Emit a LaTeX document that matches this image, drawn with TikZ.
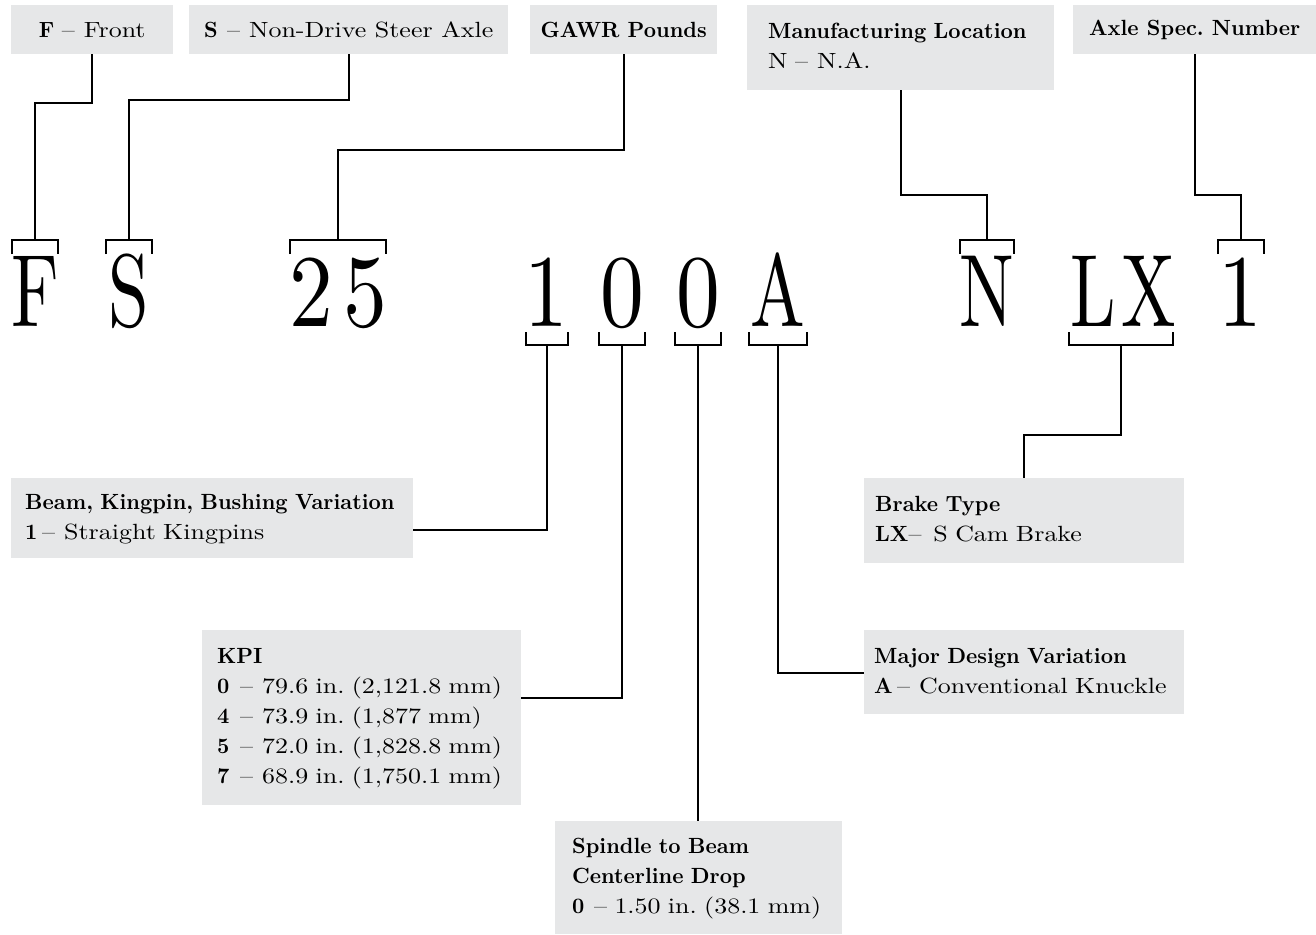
\documentclass[tikz,border=0pt]{standalone}
\usepackage{fontspec}
\setmainfont{lmroman10-regular.otf}[BoldFont=lmroman10-bold.otf,
  UprightFeatures={FakeStretch=1.18}, BoldFeatures={FakeStretch=0.97}]
\usepackage{tikz}
\usetikzlibrary{calc}
\definecolor{boxgray}{HTML}{E6E7E8}
\frenchspacing
\newcommand\entry[3][23pt]{\makebox[#1][l]{#2}--\hspace{9pt}#3}
\newcommand\boxlines[1]{\noindent\begin{tabular}{@{}l@{}}#1\end{tabular}}

\begin{document}
\begin{tikzpicture}[x=1pt, y=-1pt,
    conn/.style={line width=2pt},
    infobox/.style={fill=boxgray, anchor=north west, inner ysep=0pt,
      font=\fontsize{22}{30}\selectfont},
    leftbox/.style={infobox, align=left},
    bigchar/.style={anchor=base, xscale=#1, inner sep=0pt,
      font=\fontsize{103}{103}\selectfont},
    bigchar/.default=0.6]
  \useasboundingbox (0,0) rectangle (1316,934);

  % code boxes on top
  \node[infobox, minimum width=162, minimum height=49] (fbox) at (11,5)
    {\entry{\textbf{F}}{Front}};
  \node[infobox, minimum width=319, minimum height=49] (sbox) at (189,5)
    {\entry{\textbf{S}}{Non-Drive Steer Axle}};
  \node[infobox, minimum width=187, minimum height=49] (gbox) at (530,5)
    {\textbf{GAWR Pounds}};
  \node[leftbox, text width=265, inner xsep=21, minimum height=85] (mbox) at (747,5)
    {\boxlines{\textbf{Manufacturing Location}\\ \entry[27pt]{N}{N.A.}}};
  \node[infobox, minimum width=243, minimum height=49] (abox) at (1073,5)
    {\textbf{Axle Spec. Number}};

  % the axle model number
  \node[bigchar] (cF) at (35,326) {F};
  \node[bigchar] (cS) at (129,326) {S};
  \node[bigchar=0.72] (c2) at (311,326) {2};
  \node[bigchar=0.72] (c5) at (365,326) {5};
  \node[bigchar=0.72] (c1) at (546,326) {1};
  \node[bigchar=0.72] (c0a) at (622,326) {0};
  \node[bigchar=0.72] (c0b) at (698,326) {0};
  \node[bigchar] (cA) at (778,326) {A};
  \node[bigchar] (cN) at (987,326) {N};
  \node[bigchar] (cL) at (1093,326) {L};
  \node[bigchar] (cX) at (1149,326) {X};
  \node[bigchar=0.72] (c1b) at (1240,326) {1};

  % brackets
  \foreach \n/\x/\w in {F/35/23, S/129/23, G/338/48, N/987/27, E/1241/23} {
    \coordinate (t\n) at (\x,240);
    \draw[conn] (\x-\w,254) -- (\x-\w,240) -- (\x+\w,240) -- (\x+\w,254);
  }
  \foreach \n/\x/\w in {1/547/21, 0a/622/23, 0b/698/23, A/778/29, LX/1121/52} {
    \coordinate (b\n) at (\x,345);
    \draw[conn] (\x-\w,332) -- (\x-\w,345) -- (\x+\w,345) -- (\x+\w,332);
  }

  % description boxes below
  \node[leftbox, text width=374, inner xsep=14, minimum height=80] (beam) at (11,478)
    {\boxlines{\textbf{Beam, Kingpin, Bushing Variation}\\
      \entry[17pt]{\textbf{1}}{Straight Kingpins}}};
  \node[leftbox, text width=289, inner xsep=15, minimum height=175] (kpi) at (202,630)
    {\boxlines{\textbf{KPI}\\
      \entry{\textbf{0}}{79.6 in. (2,121.8 mm)}\\
      \entry{\textbf{4}}{73.9 in. (1,877 mm)}\\
      \entry{\textbf{5}}{72.0 in. (1,828.8 mm)}\\
      \entry{\textbf{7}}{68.9 in. (1,750.1 mm)}}};
  \node[leftbox, text width=253, inner xsep=17, minimum height=113] (spin) at (555,821)
    {\boxlines{\textbf{Spindle to Beam}\\ \textbf{Centerline Drop}\\
      \makebox[22pt][l]{\textbf{0}}-- 1.50 in. (38.1 mm)}};
  \node[leftbox, text width=298, inner xsep=11, minimum height=85] (brake) at (864,478)
    {\boxlines{\textbf{Brake Type}\\ \textbf{LX}--\hspace{12pt}S Cam Brake}};
  \node[leftbox, text width=300, inner xsep=10, minimum height=84] (major) at (864,630)
    {\boxlines{\textbf{Major Design Variation}\\
      \entry{\textbf{A}}{Conventional Knuckle}}};

  % connectors
  \draw[conn] (fbox.south) -- ++(0,49) -| (tF);
  \draw[conn] (sbox.south) -- ++(0,46) -| (tS);
  \draw[conn] (gbox.south) -- ++(0,96) -| (tG);
  \draw[conn] (mbox.south) -- ++(0,105) -| (tN);
  \draw[conn] (abox.south) -- ++(0,141) -| (tE);
  \draw[conn] (b1) |- (beam.east |- 0,530);
  \draw[conn] (b0a) |- (kpi.east |- 0,698);
  \draw[conn] (b0b) -- (b0b |- spin.north);
  \draw[conn] (bA) |- (major.west |- 0,673);
  \draw[conn] (bLX) -- ++(0,90) -| (brake.north);
\end{tikzpicture}
\end{document}
